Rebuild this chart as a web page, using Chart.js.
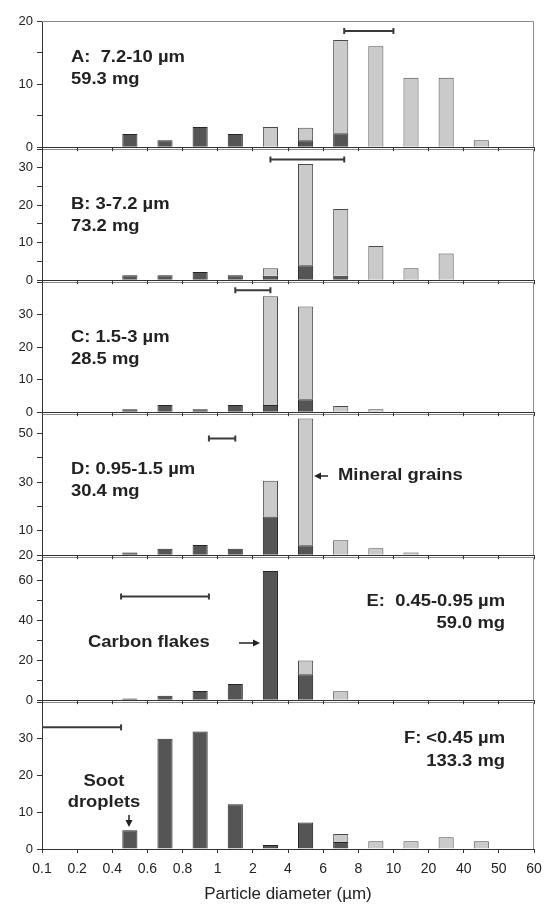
<!DOCTYPE html>
<html>
<head>
<meta charset="utf-8">
<script src="https://cdn.jsdelivr.net/npm/chart.js@4.4.1/dist/chart.umd.min.js"></script>
<style>
body { margin: 0; background: #fff; }
#wrap { position: relative; width: 544px; height: 906px; }
#wrap canvas { position: absolute; left: 0; }
</style>
</head>
<body>
<div id="wrap"></div>
<script>
// size bin edges (um) used as x tick labels
const edges = [0.1, 0.2, 0.4, 0.6, 0.8, 1, 2, 4, 6, 8, 10, 20, 40, 50, 60];
const edgeLabels = ['0.1', '0.2', '0.4', '0.6', '0.8', '1', '2', '4', '6', '8', '10', '20', '40', '50', '60'];
const bins = edges.slice(0, -1).map((e, i) => e + '-' + edges[i + 1]);

// dark = carbon particles, light = mineral grains (mass per bin)
const carbonA  = [null, null, 2.1, 1.1, 3.2, 2.1, null, 1.1, 2.2, null, null, null, null, null];
const mineralA = [null, null, null, null, null, null, 3.2, 2, 14.8, 16, 11, 11, 1.1, null];
const carbonB  = [null, null, 1.3, 1.3, 2.2, 1.3, 1.2, 4, 1.2, null, null, null, null, null];
const mineralB = [null, null, null, null, null, null, 2, 27, 17.8, 9.1, 3.2, 7.1, null, null];
const carbonC  = [null, null, 0.9, 2.2, 0.9, 2.2, 2.2, 4, null, null, null, null, null, null];
const mineralC = [null, null, null, null, null, null, 33.4, 28.5, 1.9, 0.9, null, null, null, null];
const carbonD  = [null, null, 1.1, 2.6, 4.2, 2.6, 15.9, 4.1, null, null, null, null, null, null];
const mineralD = [null, null, null, null, null, null, 14.7, 52.1, 6.1, 2.9, 1.1, null, null, null];
const carbonE  = [null, null, 0.9, 2.3, 4.6, 8.2, 65, 13, null, null, null, null, null, null];
const mineralE = [null, null, null, null, null, null, null, 7, 4.5, null, null, null, null, null];
const carbonF  = [null, null, 5.1, 30, 32, 12.2, 1.1, 7.2, 1.9, null, null, null, null, null];
const mineralF = [null, null, null, null, null, null, null, null, 2.2, 2.1, 2.1, 3.2, 2.1, null];

// impactor stage cut range (um) and the height the range bar is drawn at
const rangeA = [7.2, 10],   levelA = 18.4;
const rangeB = [3, 7.2],    levelB = 32.2;
const rangeC = [1.5, 3],    levelC = 37.5;
const rangeD = [0.95, 1.5], levelD = 47.9;
const rangeE = [0.45, 0.95], levelE = 52.1;
const rangeF = [0.1, 0.45], levelF = 33.1;

// y ticks and their labels
const yTicksA = [0, 5, 10, 15, 20],              yLabelsA = ['0', '', '10', '', '20'];
const yTicksB = [0, 5, 10, 15, 20, 25, 30, 35],  yLabelsB = ['0', '', '10', '', '20', '', '30', ''];
const yTicksC = [0, 5, 10, 15, 20, 25, 30, 35, 40], yLabelsC = ['0', '', '10', '', '20', '', '30', '', ''];
const yTicksD = [0, 10, 20, 30, 40, 50],         yLabelsD = ['20', '10', '', '30', '', '50'];
const yTicksE = [0, 10, 20, 30, 40, 50, 60, 70], yLabelsE = ['0', '', '20', '', '40', '', '60', ''];
const yTicksF = [0, 5, 10, 15, 20, 25, 30, 35, 40], yLabelsF = ['0', '', '10', '', '20', '', '30', '', ''];

// um -> position on the bin-edge axis
function sizeToPos(d) {
    for (let i = 0; i < edges.length - 1; i++) {
        if (d <= edges[i + 1]) return i + (d - edges[i]) / (edges[i + 1] - edges[i]);
    }
    return edges.length - 1;
}

const panels = [
    { carbon: carbonA, mineral: mineralA, range: rangeA, level: levelA, max: 20, ticks: yTicksA, labels: yLabelsA, top: 21, bottom: 149,
      notes: [{ t: 'A:  7.2-10 \u00b5m', x: 71, y: 58, a: 'left' }, { t: '59.3 mg', x: 71, y: 80, a: 'left' }], arrows: [] },
    { carbon: carbonB, mineral: mineralB, range: rangeB, level: levelB, max: 35, ticks: yTicksB, labels: yLabelsB, top: 149, bottom: 282,
      notes: [{ t: 'B: 3-7.2 \u00b5m', x: 71, y: 205, a: 'left' }, { t: '73.2 mg', x: 71, y: 227, a: 'left' }], arrows: [] },
    { carbon: carbonC, mineral: mineralC, range: rangeC, level: levelC, max: 40, ticks: yTicksC, labels: yLabelsC, top: 282, bottom: 414,
      notes: [{ t: 'C: 1.5-3 \u00b5m', x: 71, y: 338, a: 'left' }, { t: '28.5 mg', x: 71, y: 360, a: 'left' }], arrows: [] },
    { carbon: carbonD, mineral: mineralD, range: rangeD, level: levelD, max: 58, ticks: yTicksD, labels: yLabelsD, top: 414, bottom: 557,
      notes: [{ t: 'D: 0.95-1.5 \u00b5m', x: 71, y: 470, a: 'left' }, { t: '30.4 mg', x: 71, y: 492, a: 'left' },
              { t: 'Mineral grains', x: 338, y: 476, a: 'left' }],
      arrows: [[328, 476, 314, 476]] },
    { carbon: carbonE, mineral: mineralE, range: rangeE, level: levelE, max: 72, ticks: yTicksE, labels: yLabelsE, top: 557, bottom: 702,
      notes: [{ t: 'E:  0.45-0.95 \u00b5m', x: 505, y: 602, a: 'right' }, { t: '59.0 mg', x: 505, y: 624, a: 'right' },
              { t: 'Carbon flakes', x: 88, y: 643, a: 'left' }],
      arrows: [[239, 643, 260, 643]] },
    { carbon: carbonF, mineral: mineralF, range: rangeF, level: levelF, max: 40, ticks: yTicksF, labels: yLabelsF, top: 702, bottom: 849,
      notes: [{ t: 'F: <0.45 \u00b5m', x: 505, y: 739, a: 'right' }, { t: '133.3 mg', x: 505, y: 762, a: 'right' },
              { t: 'Soot', x: 104, y: 782, a: 'center' }, { t: 'droplets', x: 104, y: 803, a: 'center' }],
      arrows: [[129, 815, 129, 827]] }
];

const padTop = 12;

// grey top / right frame of each panel
const framePlugin = {
    id: 'frame',
    beforeDatasetsDraw(chart) {
        const a = chart.chartArea, ctx = chart.ctx;
        ctx.save();
        ctx.strokeStyle = '#8a8a8a';
        ctx.lineWidth = 1;
        ctx.beginPath();
        ctx.moveTo(a.left, a.top + 0.5);
        ctx.lineTo(a.right - 0.5, a.top + 0.5);
        ctx.lineTo(a.right - 0.5, a.bottom);
        ctx.stroke();
        ctx.restore();
    }
};

// panel captions and arrows
const notesPlugin = {
    id: 'notes',
    afterDraw(chart, args, opts) {
        const ctx = chart.ctx, dy = opts.offset;
        ctx.save();
        ctx.fillStyle = '#222';
        ctx.font = 'bold 16px "Liberation Sans", Arial, sans-serif';
        ctx.textBaseline = 'middle';
        opts.notes.forEach(n => {
            ctx.save();
            ctx.translate(n.x, n.y - dy);
            ctx.scale(1.15, 1);
            ctx.textAlign = n.a;
            ctx.fillText(n.t, 0, 0);
            ctx.restore();
        });
        ctx.strokeStyle = '#222';
        ctx.lineWidth = 1.5;
        opts.arrows.forEach(([x1, y1, x2, y2]) => {
            y1 -= dy; y2 -= dy;
            const ang = Math.atan2(y2 - y1, x2 - x1);
            ctx.beginPath();
            ctx.moveTo(x1, y1);
            ctx.lineTo(x2 - 4 * Math.cos(ang), y2 - 4 * Math.sin(ang));
            ctx.stroke();
            ctx.beginPath();
            ctx.moveTo(x2, y2);
            ctx.lineTo(x2 - 7 * Math.cos(ang) + 3.5 * Math.sin(ang), y2 - 7 * Math.sin(ang) - 3.5 * Math.cos(ang));
            ctx.lineTo(x2 - 7 * Math.cos(ang) - 3.5 * Math.sin(ang), y2 - 7 * Math.sin(ang) + 3.5 * Math.cos(ang));
            ctx.closePath();
            ctx.fill();
        });
        ctx.restore();
    }
};

const wrap = document.getElementById('wrap');

panels.forEach((p, i) => {
    const last = i === panels.length - 1;
    const axisH = last ? 906 - p.bottom : 10;
    const canvasTop = p.top - padTop;
    const canvas = document.createElement('canvas');
    canvas.width = 544;
    canvas.height = p.bottom - p.top + padTop + axisH;
    canvas.style.top = canvasTop + 'px';
    canvas.style.zIndex = 20 - i;
    wrap.appendChild(canvas);

    new Chart(canvas.getContext('2d'), {
        type: 'bar',
        data: {
            labels: bins,
            datasets: [{
                label: 'Carbon',
                data: p.carbon,
                stack: 'mass',
                grouped: false,
                backgroundColor: '#555555',
                borderColor: '#262626',
                borderWidth: 1,
                barPercentage: 0.43,
                categoryPercentage: 1
            }, {
                label: 'Mineral',
                data: p.mineral,
                stack: 'mass',
                grouped: false,
                backgroundColor: '#cacaca',
                borderColor: '#4a4a4a',
                borderWidth: 1,
                barPercentage: 0.43,
                categoryPercentage: 1
            }, {
                type: 'line',
                label: 'Stage range',
                xAxisID: 'xr',
                stack: 'range',
                data: [{ x: sizeToPos(p.range[0]), y: p.level }, { x: sizeToPos(p.range[1]), y: p.level }],
                borderColor: '#3a3a3a',
                borderWidth: 2,
                pointStyle: 'line',
                rotation: 90,
                pointRadius: 3,
                pointBorderWidth: 2,
                pointBorderColor: '#3a3a3a'
            }]
        },
        options: {
            responsive: false,
            animation: false,
            events: [],
            layout: { padding: { top: padTop, right: 10, left: 0, bottom: 0 } },
            plugins: {
                legend: { display: false },
                tooltip: { enabled: false },
                notes: { notes: p.notes, arrows: p.arrows, offset: canvasTop }
            },
            scales: {
                x: { type: 'category', display: false, stacked: true },
                xr: {
                    axis: 'x',
                    type: 'linear',
                    position: 'bottom',
                    offset: false,
                    min: 0,
                    max: edges.length - 1,
                    afterFit: s => { s.height = axisH; s.paddingLeft = 0; s.paddingRight = 0; },
                    border: { color: '#333', width: 1 },
                    grid: { offset: false, drawOnChartArea: false, drawTicks: true, tickLength: 4, color: '#333' },
                    ticks: {
                        stepSize: 1,
                        autoSkip: false,
                        maxRotation: 0,
                        padding: 8,
                        color: '#222',
                        font: { family: '"Liberation Sans", Arial, sans-serif', size: 14 },
                        callback: (v, idx) => last ? edgeLabels[idx] : ''
                    },
                    title: {
                        display: last,
                        text: 'Particle diameter (\u00b5m)',
                        color: '#222',
                        font: { family: '"Liberation Sans", Arial, sans-serif', size: 17 },
                        padding: { top: 2, bottom: 1 }
                    }
                },
                y: {
                    stacked: true,
                    min: 0,
                    max: p.max,
                    afterFit: s => { s.width = 42; },
                    afterBuildTicks: s => { s.ticks = p.ticks.map(v => ({ value: v })); },
                    border: { color: '#333', width: 1 },
                    grid: { drawOnChartArea: false, drawTicks: true, tickLength: 5, color: '#333' },
                    ticks: {
                        padding: 4,
                        color: '#222',
                        font: { family: '"Liberation Sans", Arial, sans-serif', size: 13 },
                        callback: (v, idx) => p.labels[idx]
                    }
                }
            }
        },
        plugins: [framePlugin, notesPlugin]
    });
});
</script>
</body>
</html>
